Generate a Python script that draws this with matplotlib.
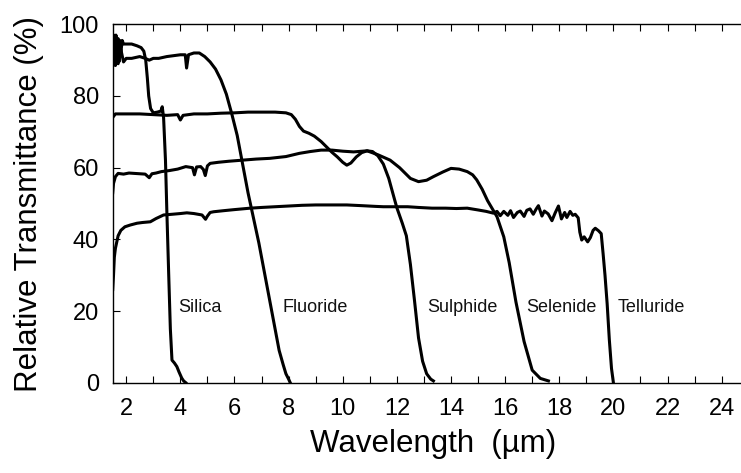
import numpy as np
import matplotlib
matplotlib.use('Agg')
import matplotlib.pyplot as plt
from matplotlib.ticker import MultipleLocator

plt.rcParams['font.family'] = ['Liberation Sans', 'DejaVu Sans']

# ── 데이터 ─────────────────────────────────────────────
silica_x = [1.5, 1.52, 1.54, 1.56, 1.58, 1.6, 1.62, 1.64, 1.66, 1.68, 1.7, 1.73, 1.76,
            1.8, 1.85, 1.9, 2.0, 2.2, 2.4, 2.55, 2.65,
            2.72, 2.78, 2.83, 2.9, 3.0, 3.15, 3.28, 3.33, 3.38, 3.45, 3.5, 3.57, 3.63,
            3.69, 3.78, 3.87, 3.95, 4.05, 4.12, 4.2]
silica_y = [96, 88.5, 97, 89.5, 96.5, 90, 97, 89, 96, 91, 96, 89.5, 95.5, 92, 95.5, 94.5,
            94.5, 94.5, 94, 93.5, 92.5,
            90, 85, 80, 76.5, 75.3, 75.5, 75.8, 77, 74, 62, 48, 30, 15,
            6.3, 5.5, 4.5, 3, 1.3, 0.5, 0]

fluoride_x = [1.5, 1.55, 1.6, 1.65, 1.7, 1.8, 1.9, 2.0, 2.2, 2.5, 2.7, 2.85, 3.0, 3.2,
              3.5, 3.8, 4.0, 4.18, 4.23, 4.3, 4.5, 4.7, 4.9, 5.1, 5.3, 5.5, 5.7, 5.9,
              6.1, 6.3, 6.5, 6.7, 6.9, 7.1, 7.3, 7.5, 7.65, 7.8, 7.9, 8.0, 8.06]
fluoride_y = [89, 95, 88.5, 94, 89, 93, 89.5, 90.5, 90.5, 91, 90.5, 90, 90.5, 90.5,
              91, 91.3, 91.5, 91.5, 87.8, 91.5, 92, 92, 91, 89.5, 87.5, 84.5, 80.5, 75,
              69, 61, 53, 46, 39, 31, 23, 15, 9, 5, 2.5, 1, 0]

sulphide_x = [1.5, 1.6, 2.0, 2.5, 3.0, 3.5, 3.9, 4.0, 4.1, 4.5, 5.0, 5.5, 6.0, 6.5, 7.0,
              7.5, 7.9, 8.1, 8.25, 8.4, 8.55, 8.75, 8.95, 9.2, 9.4, 9.6, 9.8, 10.0, 10.15,
              10.3, 10.5, 10.7, 10.9, 11.1, 11.3, 11.5, 11.7, 11.9, 12.0, 12.2, 12.35,
              12.5, 12.65, 12.8, 12.95, 13.1, 13.25, 13.35]
sulphide_y = [74, 75, 75, 75, 74.8, 74.6, 74.8, 73.3, 74.6, 75, 75, 75.2, 75.3, 75.5, 75.5,
              75.5, 75.3, 74.8, 73.5, 71.5, 70.2, 69.6, 68.8, 67.3, 65.8, 64.3, 63, 61.5, 60.7,
              61.3, 63, 64.2, 64.7, 64.5, 63.3, 61, 57, 51.5, 48.8, 44.5, 41,
              33, 23, 12.5, 6, 2.5, 1, 0.5]

selenide_x = [1.5, 1.53, 1.6, 1.7, 1.9, 2.1, 2.3, 2.5, 2.7, 2.85, 2.95, 3.1, 3.3, 3.6,
              3.9, 4.2, 4.45, 4.52, 4.6, 4.75, 4.85, 4.92, 5.0, 5.1, 5.4, 5.8, 6.3, 6.8,
              7.3, 7.9, 8.4, 8.8, 9.2, 9.6, 10.0, 10.4, 10.9, 11.3, 11.75, 12.1, 12.5,
              12.8, 13.1, 13.35, 13.7, 14.0, 14.3, 14.6, 14.8, 14.95, 15.15, 15.35, 15.7,
              15.95, 16.15, 16.4, 16.7, 17.0, 17.3, 17.6]
selenide_y = [53, 55.6, 57.5, 58.4, 58.2, 58.5, 58.4, 58.3, 58.2, 57.2, 58.3, 58.5, 58.9, 59.2,
              59.6, 60.3, 60, 58, 60.2, 60.3, 59.5, 57.8, 60.5, 61.2, 61.5, 61.8, 62.1, 62.4,
              62.6, 63.1, 64, 64.5, 64.9, 64.9, 64.6, 64.4, 64.7, 63.6, 62.1, 60, 57,
              56.1, 56.5, 57.5, 58.8, 59.8, 59.6, 58.9, 58, 56.6, 54, 50.8, 46.3,
              40.7, 33.5, 22.5, 11.5, 3.5, 1.2, 0.5]

telluride_x = [1.5, 1.53, 1.56, 1.6, 1.7, 1.8, 1.95, 2.15, 2.4, 2.6, 2.89, 3.1, 3.38, 3.7,
               4.0, 4.24, 4.5, 4.8, 4.93, 5.0, 5.1, 5.23, 5.6, 6.0, 6.58, 7.0, 7.5, 8.0,
               8.5, 9.0, 9.5, 10.15, 10.7, 11.2, 11.5, 12.0, 12.4, 12.8, 13.3, 13.8, 14.2,
               14.6, 15.0, 15.3, 15.57, 15.7, 15.82, 15.95, 16.1, 16.2, 16.31, 16.45, 16.56,
               16.7, 16.8, 16.92, 17.04, 17.15, 17.23, 17.36, 17.45, 17.59, 17.73, 17.85,
               17.97, 18.08, 18.2, 18.28, 18.4, 18.5, 18.59, 18.7, 18.76, 18.83, 18.92,
               19.05, 19.15, 19.25, 19.33, 19.45, 19.55, 19.62, 19.69, 19.77, 19.85, 19.93, 20.0]
telluride_y = [26, 30, 35, 37.5, 41, 42.5, 43.5, 44, 44.5, 44.7, 44.9, 45.8, 46.8, 47,
               47.2, 47.4, 47.2, 46.8, 45.6, 46.5, 47.5, 47.7, 48, 48.3, 48.7, 48.9, 49.1, 49.3,
               49.5, 49.6, 49.6, 49.6, 49.4, 49.2, 49.1, 49.1, 49.1, 48.9, 48.7, 48.7, 48.6,
               48.7, 48.2, 47.8, 47.3, 47.8, 46.6, 47.8, 46.7, 48.0, 46.1, 47.5, 47.9,
               46.4, 48.1, 48.5, 47.0, 48.5, 49.4, 46.5, 47.9, 47.1, 45.2, 47.4,
               49.3, 45.7, 47.5, 46.1, 47.8, 46.7, 47.0, 46, 42, 39.8, 40.7,
               39.3, 40.5, 42.5, 43.1, 42.4, 41.6, 36, 30, 22, 12, 4, 0]

SERIES = [
    (silica_x, silica_y),
    (fluoride_x, fluoride_y),
    (sulphide_x, sulphide_y),
    (selenide_x, selenide_y),
    (telluride_x, telluride_y),
]

LABELS   = ['Silica', 'Fluoride', 'Sulphide', 'Selenide', 'Telluride']
LABEL_X  = [3.92, 7.76, 13.12, 16.78, 20.17]
LABEL_Y  = 21.0

# ── 그림 ─────────────────────────────────────────────────────
fig = plt.figure(figsize=(7.41, 4.73), dpi=100)
ax = fig.add_axes([0.1521, 0.1909, 0.8583, 0.7577])

for xs, ys in SERIES:
    ax.plot(xs, ys, color='black', linewidth=2.2, solid_joinstyle='round')

for name, lx in zip(LABELS, LABEL_X):
    ax.text(lx, LABEL_Y, name, fontsize=13, va='center', ha='left', color='#111')

ax.set_xlim(1.5, 25)
ax.set_ylim(0, 100)
ax.xaxis.set_major_locator(MultipleLocator(2))
ax.xaxis.set_minor_locator(MultipleLocator(1))
ax.yaxis.set_major_locator(MultipleLocator(20))

ax.tick_params(axis='both', which='both', direction='in', length=5, width=0.8,
               top=True, right=False, color='black')
ax.tick_params(axis='x', which='major', labelsize=17, pad=11)
ax.tick_params(axis='y', which='major', labelsize=17, pad=10)

for sp in ax.spines.values():
    sp.set_linewidth(1.0)
    sp.set_color('black')

ax.set_xlabel('Wavelength  (µm)', fontsize=22.5)
ax.set_ylabel('Relative Transmittance (%)', fontsize=22.5)
ax.xaxis.set_label_coords(0.504, -0.128)
ax.yaxis.set_label_coords(-0.108, 0.5)

fig.savefig('out.png', dpi=100)
